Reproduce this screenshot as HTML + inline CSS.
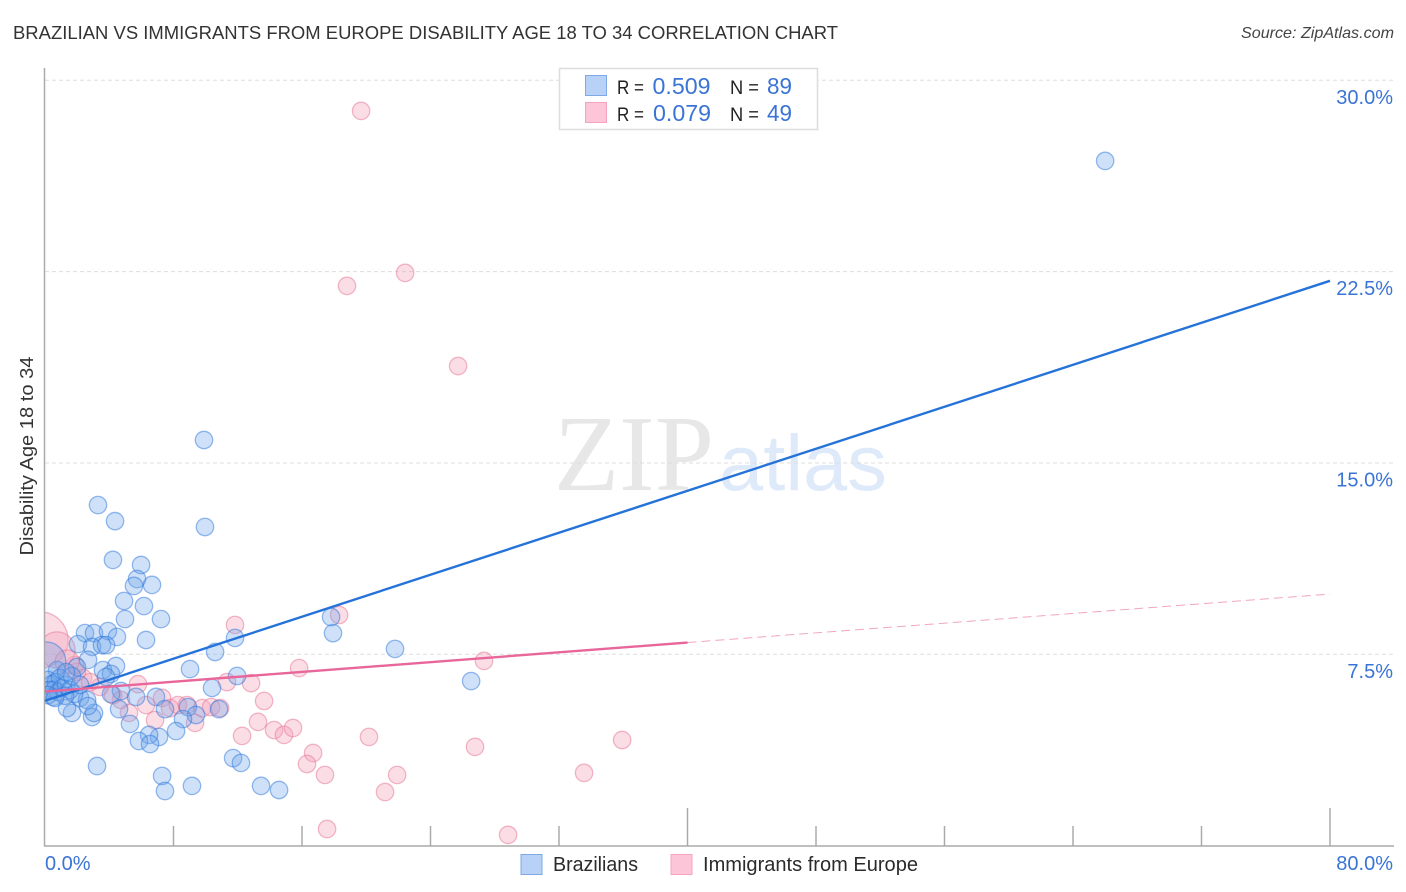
<!DOCTYPE html>
<html lang="en">
<head>
<meta charset="utf-8">
<title>Brazilian vs Immigrants from Europe Disability Age 18 to 34 Correlation Chart</title>
<style>
html,body{margin:0;padding:0;background:#fff;width:1406px;height:892px;overflow:hidden}
svg{display:block;font-family:"Liberation Sans",sans-serif}
</style>
</head>
<body>
<svg id="chart" xmlns="http://www.w3.org/2000/svg" width="1406" height="892" viewBox="0 0 1406 892">
  <text x="13" y="39" font-size="18.5" fill="#333" textLength="825" lengthAdjust="spacingAndGlyphs">BRAZILIAN VS IMMIGRANTS FROM EUROPE DISABILITY AGE 18 TO 34 CORRELATION CHART</text>
  <text x="1394" y="38" font-size="16" font-style="italic" fill="#444" text-anchor="end" textLength="153" lengthAdjust="spacingAndGlyphs">Source: ZipAtlas.com</text>
  <g>
    <text x="554" y="490" font-family="'Liberation Serif',serif" font-size="108" fill="#e7e7e7" textLength="160" lengthAdjust="spacingAndGlyphs">ZIP</text>
    <text x="719" y="490" font-size="79" fill="#deeafa" textLength="168" lengthAdjust="spacingAndGlyphs">atlas</text>
  </g>
  <g id="grid"></g>
  <g id="ticks"></g>
  <g id="points"></g>
  <rect x="0" y="60" width="44" height="790" fill="#fff"/>
  <g id="axes">
    <line x1="44.5" y1="68" x2="44.5" y2="846" stroke="#aaa" stroke-width="1.5"/>
    <line x1="44" y1="846" x2="1394" y2="846" stroke="#aaa" stroke-width="1.5"/>
  </g>
  <g id="trends"></g>
  <g id="ylabels"></g>
  <g id="xlabels"></g>
  <text transform="translate(33,456) rotate(-90)" font-size="18.5" fill="#333" text-anchor="middle" textLength="199" lengthAdjust="spacingAndGlyphs">Disability Age 18 to 34</text>

  <g>
    <rect x="559.5" y="68.5" width="258" height="61" fill="#fff" fill-opacity="0.92" stroke="#ddd" stroke-width="1.5"/>
    <rect x="585.5" y="75.5" width="21" height="20" fill="#b7d2f6" stroke="#7fa9e6"/>
    <rect x="585.5" y="102.5" width="21" height="20" fill="#fcc6d8" stroke="#f4a4bf"/>
    <text x="617" y="94" font-size="19" fill="#222" textLength="27" lengthAdjust="spacingAndGlyphs">R =</text>
    <text x="652.5" y="94" font-size="23" fill="#3a74d4" textLength="58" lengthAdjust="spacingAndGlyphs">0.509</text>
    <text x="730" y="94" font-size="19" fill="#222" textLength="29" lengthAdjust="spacingAndGlyphs">N =</text>
    <text x="767" y="94" font-size="23" fill="#3a74d4" textLength="25" lengthAdjust="spacingAndGlyphs">89</text>
    <text x="617" y="121" font-size="19" fill="#222" textLength="27" lengthAdjust="spacingAndGlyphs">R =</text>
    <text x="653" y="121" font-size="23" fill="#3a74d4" textLength="58" lengthAdjust="spacingAndGlyphs">0.079</text>
    <text x="730" y="121" font-size="19" fill="#222" textLength="29" lengthAdjust="spacingAndGlyphs">N =</text>
    <text x="767" y="121" font-size="23" fill="#3a74d4" textLength="25" lengthAdjust="spacingAndGlyphs">49</text>
  </g>

  <g>
    <g>
      <rect x="521" y="854.5" width="21" height="20" fill="#b7d2f6" stroke="#7fa9e6"/>
      <text x="553" y="871" font-size="20" fill="#2b2b2b" textLength="85" lengthAdjust="spacingAndGlyphs">Brazilians</text>
    </g>
    <g>
      <rect x="671" y="854.5" width="21" height="20" fill="#fcc6d8" stroke="#f4a4bf"/>
      <text x="703" y="871" font-size="20" fill="#2b2b2b" textLength="215" lengthAdjust="spacingAndGlyphs">Immigrants from Europe</text>
    </g>
  </g>
</svg>
<script>
var brazilianX = [66.00,9.90,3.30,4.36,9.96,4.23,5.98,5.73,5.54,6.66,4.92,6.16,7.22,4.98,2.49,3.05,3.92,4.48,6.29,11.83,17.93,17.81,21.79,2.05,2.93,3.55,3.80,10.59,2.68,9.03,4.42,26.53,11.96,10.40,3.61,4.11,3.80,4.73,5.67,6.91,4.11,7.47,8.90,10.83,9.40,8.59,4.61,5.29,8.16,7.10,6.48,5.85,6.54,3.24,7.29,7.47,9.15,11.71,12.20,13.45,14.57,2.93,3.05,1.68,1.37,2.18,2.62,2.68,0.50,0.75,1.99,0.05,0.19,0.44,0.68,0.93,0.31,0.56,0.81,1.06,1.31,1.56,1.81,1.25,0.19,0.62,1.68,1.31,2.18];
var brazilianY = [26.84,15.90,13.35,12.72,12.49,11.20,11.00,10.45,10.18,10.22,9.59,9.39,8.88,8.88,8.33,8.33,8.41,8.18,8.06,8.14,8.33,8.96,7.71,7.90,7.79,7.86,7.86,7.59,7.28,6.92,7.04,6.45,6.65,6.18,6.88,6.73,6.61,6.06,5.83,5.83,5.94,5.35,5.43,5.35,5.12,4.96,5.35,4.77,4.49,4.26,4.34,4.10,3.98,3.12,2.73,2.14,2.34,3.43,3.24,2.34,2.18,5.04,5.20,5.20,5.39,5.79,5.71,5.47,5.83,6.88,7.00,7.20,6.49,6.33,6.41,6.57,6.10,6.10,6.02,6.18,6.30,6.10,5.94,5.87,5.90,5.79,6.65,6.80,6.30];
var brazilianWeight = [1,1,1,1,1,1,1,1,1,1,1,1,1,1,1,1,1,1,1,1,1,1,1,1,1,1,1,1,1,1,1,1,1,1,1,1,1,1,1,1,1,1,1,1,1,1,1,1,1,1,1,1,1,1,1,1,1,1,1,1,1,1,1,1,1,1,1,1,1,1,1,5.3,1,1,1,1,1,1,1,1,1,1,1,1,1,1,1,1,1];
var immigrantX = [19.68,18.80,22.42,25.72,18.31,11.83,15.82,27.33,11.33,12.83,13.64,13.26,12.27,14.26,14.88,15.44,16.69,16.31,17.43,17.56,20.17,21.92,21.17,26.77,28.83,33.56,35.93,5.79,7.29,6.29,4.73,5.23,6.85,9.34,7.78,8.28,8.84,9.78,10.34,10.90,2.37,3.42,2.80,1.99,1.87,4.23,-0.31,0.75,1.37];
var immigrantY = [28.80,21.94,22.45,18.80,9.04,8.65,6.96,7.24,6.41,6.37,5.67,4.85,4.30,4.53,4.34,4.61,3.63,3.20,2.77,0.65,4.26,2.77,2.10,3.87,0.42,2.85,4.14,6.33,5.79,5.51,5.71,5.20,4.92,4.81,5.39,5.51,5.51,5.39,5.43,5.39,6.57,6.22,6.41,6.81,7.08,5.90,8.06,7.67,7.20];
var immigrantWeight = [1,1,1,1,1,1,1,1,1,1,1,1,1,1,1,1,1,1,1,1,1,1,1,1,1,1,1,1,1,1,1,1,1,1,1,1,1,1,1,1,1,1,1,1,1,1,10.4,4.3,1.9];
var trendX = [0,80];
var brazilianTrendY = [5.68,22.14];
var immigrantSolidX = [0,40];
var immigrantSolidY = [6.04,7.96];
var immigrantDashX = [40,80];
var immigrantDashY = [7.96,9.86];
var yTicks = [7.5,15,22.5,30];
var yTickLabels = ["7.5%","15.0%","22.5%","30.0%"];
var xTicks = [8,16,24,32,40,48,56,64,72,80];
var xMajorTicks = [40,80];
var xEdgeLabels = ["0.0%","80.0%"];

var NS = "http://www.w3.org/2000/svg";
function xScale(v){ return 45 + v * 16.0625; }
function yScale(v){ return 845.6 - v * 25.51; }
function rScale(w){ return 8.7 * Math.sqrt(w); }
function make(tag, parentId){
  var el = document.createElementNS(NS, tag);
  document.getElementById(parentId).appendChild(el);
  return el;
}
function drawLine(xs, ys, color, width, dash, name){
  var el = make("line", "trends");
  
  
  el.setAttribute("x1", xScale(xs[0]));
  el.setAttribute("y1", yScale(ys[0]));
  el.setAttribute("x2", xScale(xs[1]));
  el.setAttribute("y2", yScale(ys[1]));
  el.setAttribute("stroke", color);
  el.setAttribute("stroke-width", width);
  if (dash) el.setAttribute("stroke-dasharray", dash);
}

yTicks.forEach(function(t, i){
  var g = make("line", "grid");
  
  
  g.setAttribute("x1", 45);
  g.setAttribute("x2", 1393);
  g.setAttribute("y1", yScale(t));
  g.setAttribute("y2", yScale(t));
  g.setAttribute("stroke", "#ddd");
  g.setAttribute("stroke-width", 1);
  g.setAttribute("stroke-dasharray", "4 3");
  var l = make("text", "ylabels");
  
  
  l.setAttribute("x", 1393);
  l.setAttribute("y", yScale(t) + 23.5);
  l.setAttribute("text-anchor", "end");
  l.setAttribute("font-size", 20);
  l.setAttribute("fill", "#3a74d4");
  l.textContent = yTickLabels[i];
});

xTicks.forEach(function(t){
  var major = xMajorTicks.indexOf(t) >= 0;
  var k = make("line", "ticks");
  
  
  k.setAttribute("x1", xScale(t));
  k.setAttribute("x2", xScale(t));
  k.setAttribute("y1", major ? 808 : 826);
  k.setAttribute("y2", 846);
  k.setAttribute("stroke", "#aaa");
  k.setAttribute("stroke-width", 1.5);
});

var x0 = make("text", "xlabels");


x0.setAttribute("x", 45);
x0.setAttribute("y", 870);
x0.setAttribute("font-size", 20);
x0.setAttribute("fill", "#3a74d4");
x0.textContent = xEdgeLabels[0];
var x1 = make("text", "xlabels");


x1.setAttribute("x", 1393);
x1.setAttribute("y", 870);
x1.setAttribute("text-anchor", "end");
x1.setAttribute("font-size", 20);
x1.setAttribute("fill", "#3a74d4");
x1.textContent = xEdgeLabels[1];

immigrantX.forEach(function(v, i){
  var c = make("circle", "points");
  
  
  c.setAttribute("cx", xScale(v));
  c.setAttribute("cy", yScale(immigrantY[i]));
  c.setAttribute("r", rScale(immigrantWeight[i]));
  c.setAttribute("fill", "rgba(245,160,185,0.36)");
  c.setAttribute("stroke", "rgba(230,120,150,0.52)");
  c.setAttribute("stroke-width", 1.3);
});
brazilianX.forEach(function(v, i){
  var c = make("circle", "points");
  
  
  c.setAttribute("cx", xScale(v));
  c.setAttribute("cy", yScale(brazilianY[i]));
  c.setAttribute("r", rScale(brazilianWeight[i]));
  c.setAttribute("fill", "rgba(110,165,235,0.33)");
  c.setAttribute("stroke", "rgba(45,120,220,0.5)");
  c.setAttribute("stroke-width", 1.3);
});

drawLine(immigrantDashX, immigrantDashY, "#f2a5bf", 1, "9 5", "immigrant-trend-projection");
drawLine(trendX, brazilianTrendY, "#2573d9", 2.4, null, "brazilian-trend-line");
drawLine(immigrantSolidX, immigrantSolidY, "#e8669a", 2.4, null, "immigrant-trend-line");
</script>
</body>
</html>
